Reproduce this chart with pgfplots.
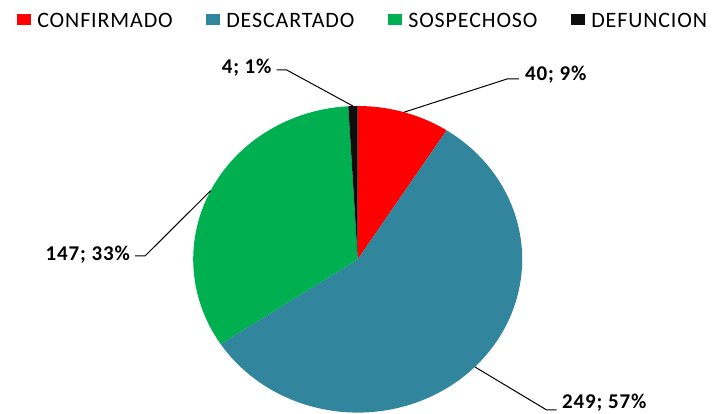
\documentclass[border=0pt]{standalone}
\usepackage{fontspec}
\setmainfont{Carlito}
\newfontfamily\legfont{Carlito}[LetterSpace=4]
\newfontfamily\labfont{Carlito}[LetterSpace=4]
\usepackage{pgfplots}
\usepackage{pgfplotstable}
\pgfplotsset{compat=1.18}

\definecolor{confred}{HTML}{FF0000}
\definecolor{descblue}{HTML}{31859C}
\definecolor{sospgreen}{HTML}{00B050}
\definecolor{defblack}{HTML}{0D0D0D}

\pgfplotstableread{
cat val
CONFIRMADO 40
DESCARTADO 249
SOSPECHOSO 147
DEFUNCION 4
}\piedata

\begin{document}
\begin{tikzpicture}
\pgfplotstablegetelem{0}{val}\of\piedata \let\vA\pgfplotsretval
\pgfplotstablegetelem{1}{val}\of\piedata \let\vB\pgfplotsretval
\pgfplotstablegetelem{2}{val}\of\piedata \let\vC\pgfplotsretval
\pgfplotstablegetelem{3}{val}\of\piedata \let\vD\pgfplotsretval
\pgfmathsetmacro\tot{\vA+\vB+\vC+\vD}
% slice borders, clockwise from 12 o'clock
\pgfmathsetmacro\aA{360*(\vA/\tot)}
\pgfmathsetmacro\aB{\aA+360*(\vB/\tot)}
\pgfmathsetmacro\aC{\aB+360*(\vC/\tot)}
\pgfmathsetmacro\mA{\aA/2}
\pgfmathsetmacro\mB{(\aA+\aB)/2}
\pgfmathsetmacro\mC{(\aB+\aC)/2}
\pgfmathsetmacro\mD{(\aC+360)/2}
\def\cx{357.7}\def\cy{154.7}\def\rx{164.5}\def\ry{153.3}
\begin{axis}[width=712bp,height=414bp,scale only axis,
  xmin=0,xmax=712,ymin=0,ymax=414,hide axis,clip=false,
  legend columns=4,legend cell align=left,
  legend image code/.code={\fill[#1] (0bp,-4bp) rectangle (14bp,7bp);},
  legend style={at={(0.0243,0.9679)},anchor=north west,draw=none,fill=none,
    inner sep=0pt,outer sep=0pt,
    font={\legfont\fontsize{22bp}{26bp}\selectfont},
    nodes={inner sep=0pt},
    /tikz/every odd column/.style={column sep=6bp},
    /tikz/every even column/.style={column sep=33bp}}]
\path (rel axis cs:0,0) rectangle (rel axis cs:1,1);

\addplot[fill=confred,draw=none,domain=0:\aA,samples=30,variable=\t]
  ({\cx+\rx*sin(\t)},{\cy+\ry*cos(\t)}) -- (axis cs:\cx,\cy) -- cycle;
\addlegendentry{\makebox[136bp][l]{CONFIRMADO}}
\addplot[fill=descblue,draw=none,domain=\aA:\aB,samples=120,variable=\t]
  ({\cx+\rx*sin(\t)},{\cy+\ry*cos(\t)}) -- (axis cs:\cx,\cy) -- cycle;
\addlegendentry{\makebox[129bp][l]{DESCARTADO}}
\addplot[fill=sospgreen,draw=none,domain=\aB:\aC,samples=80,variable=\t]
  ({\cx+\rx*sin(\t)},{\cy+\ry*cos(\t)}) -- (axis cs:\cx,\cy) -- cycle;
\addlegendentry{\makebox[130bp][l]{SOSPECHOSO}}
\addplot[fill=defblack,draw=none,domain=\aC:360,samples=5,variable=\t]
  ({\cx+\rx*sin(\t)},{\cy+\ry*cos(\t)}) -- (axis cs:\cx,\cy) -- cycle;
\addlegendentry{\makebox[115bp][l]{DEFUNCION}}

% leader lines
\draw[line width=1bp] (axis cs:{\cx+\rx*sin(\mA)},{\cy+\ry*cos(\mA)}) -- (axis cs:507,335) -- (axis cs:519,335);
\draw[line width=1bp] (axis cs:{\cx+\rx*sin(\mB)},{\cy+\ry*cos(\mB)}) -- (axis cs:546.7,4) -- (axis cs:556.7,4);
\draw[line width=1bp] (axis cs:{\cx+\rx*sin(\mC)},{\cy+\ry*cos(\mC)}) -- (axis cs:145,158) -- (axis cs:135,158);
\draw[line width=1bp] (axis cs:{\cx+\rx*sin(\mD)},{\cy+\ry*cos(\mD)}) -- (axis cs:286.7,344) -- (axis cs:276.7,344);

\tikzset{lab/.style={inner sep=0pt,font={\labfont\bfseries\fontsize{21bp}{25bp}\selectfont}}}
\node[lab,anchor=base west] at (axis cs:525,333) {40; 9\%};
\node[lab,anchor=base west] at (axis cs:562,5.5) {249; 57\%};
\node[lab,anchor=base east] at (axis cs:130,153) {147; 33\%};
\node[lab,anchor=base east] at (axis cs:271.7,340) {4; 1\%};
\end{axis}
\end{tikzpicture}
\end{document}
